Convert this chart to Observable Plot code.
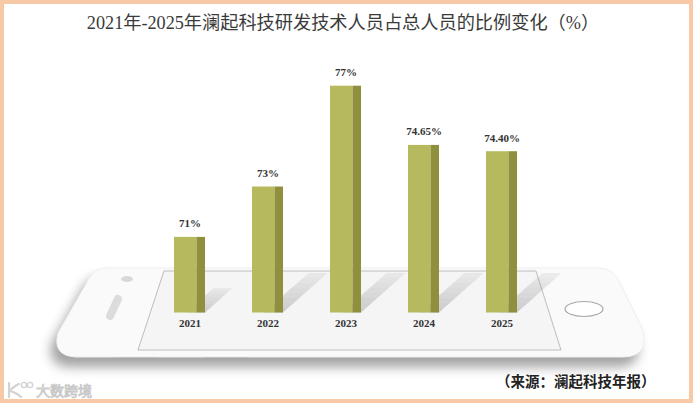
<!DOCTYPE html>
<html><head><meta charset="utf-8">
<script src="https://cdn.jsdelivr.net/npm/d3@7"></script>
<script src="https://cdn.jsdelivr.net/npm/@observablehq/plot@0.6"></script>
<style>
html,body{margin:0;padding:0;background:#fff;}
#wrap{position:relative;width:693px;height:403px;overflow:hidden;background:#fff;}
#chart{position:absolute;left:0;top:0;}
#frame{position:absolute;left:0;top:0;width:693px;height:403px;box-sizing:border-box;border:4px solid #f8c9a6;pointer-events:none;}
#title{position:absolute;top:13px;left:0;width:686px;text-align:center;font-size:18.2px;line-height:20px;font-family:"Liberation Serif","Noto Sans CJK SC",serif;color:#3a3a3a;white-space:nowrap;}
#source{position:absolute;top:372px;left:496px;font-size:14.5px;line-height:18px;font-family:"Noto Sans CJK SC",sans-serif;font-weight:bold;color:#222;white-space:nowrap;}
#wm{position:absolute;left:6px;top:381px;height:18px;}
</style></head>
<body>
<div id="wrap">
  <div id="chart"></div>
  <div id="title">2021年-2025年澜起科技研发技术人员占总人员的比例变化（%）</div>
  <div id="source">（来源：澜起科技年报）</div>
  <svg id="wm" width="100" height="18" viewBox="0 0 100 18">
    <path d="M3,2 L3,16 M3,10 Q10,4 13,3 M4,10 Q11,12 15,16" fill="none" stroke="#d2d2d2" stroke-width="2.2" stroke-linecap="round"/>
    <circle cx="18" cy="4" r="2.6" fill="none" stroke="#d2d2d2" stroke-width="1.4"/>
    <circle cx="24" cy="4" r="2.6" fill="none" stroke="#d2d2d2" stroke-width="1.4"/>
    <text x="30" y="15" font-size="14" font-family="Noto Sans CJK SC" fill="#fff" stroke="#c9c9c9" stroke-width="0.9">大数跨境</text>
  </svg>
  <div id="frame"></div>
</div>
<script>
// ---- data ----
const years = ["2021", "2022", "2023", "2024", "2025"];
const ratios = [71, 73, 77, 74.65, 74.40];
const valueLabels = ["71%", "73%", "77%", "74.65%", "74.40%"];
const yDomain = [68, 78];
const baseline = yDomain[0];

const data = years.map((year, i) => ({year, value: ratios[i], label: valueLabels[i]}));

const frontColor = "#b6b95d";
const sideColor = "#8f8f3d";
const screenPts = [[164, 271], [536, 271], [561, 350], [138, 350]];

// decorative phone behind the bars
function phoneMark() {
  const g = d3.create("svg:g");
  const defs = g.append("defs");
  const f = defs.append("filter").attr("id", "phShadow").attr("x", "-20%").attr("y", "-40%").attr("width", "140%").attr("height", "180%");
  f.append("feGaussianBlur").attr("stdDeviation", 6);
  const body = "M105,268 L598,268 Q614,268 620,283 L643,330 Q649,356 624,357 L76,357 Q52,356 58,333 L86,284 Q93,268 105,268 Z";
  g.append("path").attr("d", body).attr("fill", "#7a7a7a").attr("opacity", 0.7)
    .attr("transform", "translate(-6,10)").attr("filter", "url(#phShadow)");
  g.append("path").attr("d", body).attr("fill", "#fafafa").attr("stroke", "#efefef").attr("stroke-width", 1);
  g.append("line").attr("x1", 113).attr("y1", 358.5).attr("x2", 158).attr("y2", 358.5).attr("stroke", "#a8a8a8").attr("stroke-width", 1.5);
  g.append("line").attr("x1", 203).attr("y1", 358.5).attr("x2", 248).attr("y2", 358.5).attr("stroke", "#a8a8a8").attr("stroke-width", 1.5);
  g.append("polygon").attr("points", screenPts.map(p => p.join(",")).join(" "))
    .attr("fill", "#f5f5f5").attr("stroke", "#bdbdbd").attr("stroke-width", 1);
  g.append("ellipse").attr("cx", 127).attr("cy", 279).attr("rx", 6).attr("ry", 3).attr("fill", "#d8d8d8");
  g.append("line").attr("x1", 118).attr("y1", 299).attr("x2", 110).attr("y2", 316)
    .attr("stroke", "#dcdcdc").attr("stroke-width", 8).attr("stroke-linecap", "round");
  g.append("ellipse").attr("cx", 584).attr("cy", 309).attr("rx", 19).attr("ry", 7.5)
    .attr("fill", "#fff").attr("stroke", "#a9a9a9").attr("stroke-width", 1.2);
  return g.node();
}

// cast shadows of the bars, derived from the data through the scales
function shadowMark(index, scales) {
  const g = d3.create("svg:g");
  const x = scales.x, y = scales.y;
  const bw = (x && x.bandwidth) ? x.bandwidth() : 31;
  const screenTop = screenPts[0][1] + 2;
  for (const d of data) {
    const x0 = x(d.year), x1 = x0 + bw;
    const y0 = y(baseline);
    const h = y0 - y(d.value);
    let dx = 0.36 * h, dy = -0.32 * h;
    if (y0 + dy < screenTop) { const k = (y0 - screenTop) / -dy; dx *= k; dy *= k; }
    const steps = 8;
    for (let s = 0; s < steps; s++) {
      const t0 = s / steps, t1 = (s + 1) / steps;
      const a = x0 + 12, b = x1;
      const pts = [[a + dx * t0, y0 + dy * t0], [b + dx * t0, y0 + dy * t0], [b + dx * t1, y0 + dy * t1], [a + dx * t1, y0 + dy * t1]];
      g.append("polygon").attr("points", pts.map(p => p.join(",")).join(" "))
        .attr("fill", "#9a9a9a").attr("opacity", 0.45 * (1 - 0.75 * t0));
    }
  }
  return g.node();
}

const chart = Plot.plot({
  width: 693,
  height: 403,
  marginLeft: 124,
  marginRight: 126,
  marginTop: 60.5,
  marginBottom: 90.5,
  style: {background: "transparent", fontFamily: "Liberation Serif", fontSize: "11px", fontWeight: "bold", color: "#333", overflow: "visible"},
  x: {type: "band", domain: years, padding: 0.6076, label: null},
  y: {domain: yDomain, axis: null},
  marks: [
    phoneMark,
    shadowMark,
    Plot.barY(data, {x: "year", y1: baseline, y2: "value", fill: frontColor, insetRight: 8.5}),
    Plot.barY(data, {x: "year", y1: baseline, y2: "value", fill: sideColor, insetLeft: 22.5}),
    Plot.text(data, {x: "year", y: "value", text: "label", dy: -10, lineAnchor: "bottom", fill: "#333"}),
    Plot.axisX({tickSize: 0, tickPadding: 6, label: null, fill: "#333"})
  ]
});
document.getElementById("chart").appendChild(chart);
</script>
</body></html>
